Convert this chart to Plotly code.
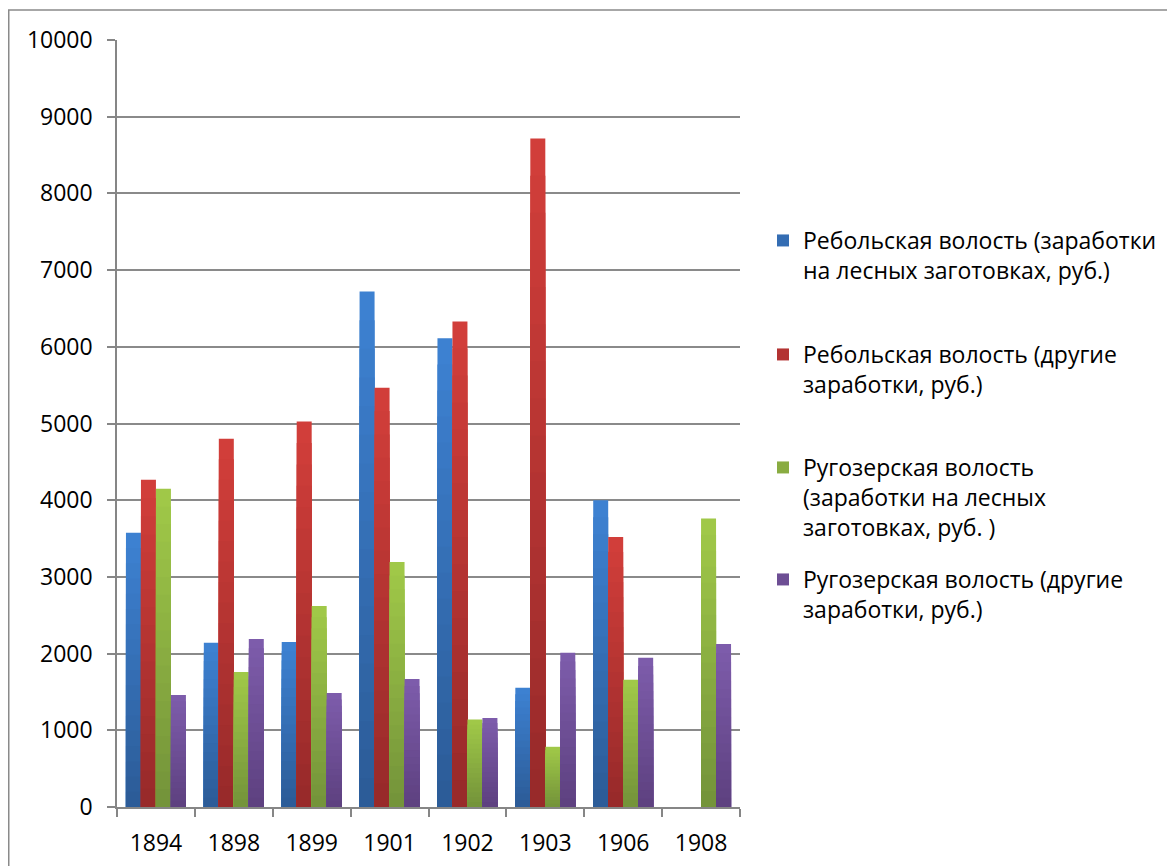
import plotly.graph_objects as go

years = ["1894", "1898", "1899", "1901", "1902", "1903", "1906", "1908"]

reboly_forest = [3575, 2140, 2150, 6720, 6110, 1555, 4000, None]
reboly_other = [4265, 4800, 5025, 5465, 6330, 8715, 3520, None]
rugozero_forest = [4150, 1760, 2620, 3195, 1140, 785, 1660, 3760]
rugozero_other = [1460, 2190, 1485, 1670, 1160, 2010, 1945, 2125]

series_names = [
    "Ребольская волость (заработки<br>на лесных заготовках, руб.)",
    "Ребольская волость (другие<br>заработки, руб.)",
    "Ругозерская волость<br>(заработки на лесных<br>заготовках, руб. )",
    "Ругозерская волость (другие<br>заработки, руб.)",
]
series_values = [reboly_forest, reboly_other, rugozero_forest, rugozero_other]

# gradient top (light) -> bottom (dark)
top_colors = [(61, 129, 209), (209, 62, 58), (160, 200, 72), (125, 92, 171)]
bottom_colors = [(44, 92, 152), (152, 42, 42), (116, 148, 58), (94, 65, 128)]

FONT = "Open Sans"
FS = 23
N = 18

# page has an 8px body margin: figure coordinates = screen - 8
OFF = 8
FIG_W, FIG_H = 1175 - OFF, 866 - OFF
plot_top, plot_bottom = 40 - OFF, 807 - OFF
plot_left, plot_right = 117 - OFF, 740 - OFF
H = plot_bottom - plot_top
W = plot_right - plot_left

fig = go.Figure()
legend_ids = ["legend", "legend2", "legend3", "legend4"]

for s, (name, vals) in enumerate(zip(series_names, series_values)):
    for k in range(N):
        frac = k / (N - 1)
        c = tuple(round(top_colors[s][i] + (bottom_colors[s][i] - top_colors[s][i]) * frac) for i in range(3))
        scale = (N - k) / N
        yv = [None if v is None else v * scale for v in vals]
        fig.add_trace(go.Bar(
            x=years, y=yv, name=name,
            marker=dict(color="rgb(%d,%d,%d)" % c, line=dict(width=0)),
            offsetgroup=str(s),
            legendgroup=str(s),
            legend=legend_ids[s],
            showlegend=(k == N // 2),
            hoverinfo="skip",
        ))

legend_tops = [219, 333, 446, 558]

layout_legends = {}
for i, lid in enumerate(legend_ids):
    layout_legends[lid] = dict(
        x=(763 - OFF - plot_left) / W, xanchor="left",
        y=(plot_bottom - (legend_tops[i] - OFF)) / H, yanchor="top",
        font=dict(family=FONT, size=FS, color="black"),
        valign="top", bgcolor="rgba(0,0,0,0)",
    )

fig.update_layout(
    width=FIG_W, height=FIG_H,
    margin=dict(l=plot_left, r=FIG_W - plot_right, t=plot_top, b=FIG_H - plot_bottom),
    paper_bgcolor="white", plot_bgcolor="white",
    barmode="group", bargap=0.23, bargroupgap=0,
    font=dict(family=FONT, size=FS, color="black"),
    **layout_legends,
)

fig.update_xaxes(
    type="category", showgrid=False, automargin=False,
    showline=True, linecolor="#868686", linewidth=1.5,
    ticks="outside", tickson="boundaries", ticklen=8, tickcolor="#868686", tickwidth=1.5,
    tickfont=dict(family=FONT, size=FS, color="black"),
    ticklabelstandoff=15,
)
fig.update_yaxes(
    range=[0, 10000], dtick=1000, tickformat="d", automargin=False,
    showgrid=True, gridcolor="#8a8a8a", gridwidth=1.5,
    showline=True, linecolor="#868686", linewidth=1.5,
    ticks="outside", ticklen=8, tickcolor="#868686", tickwidth=1.5,
    tickfont=dict(family=FONT, size=FS, color="black"),
    ticklabelstandoff=10, zeroline=False,
)

# outer chart-area border
fig.add_shape(
    type="rect", xref="paper", yref="paper",
    x0=(8 - OFF - plot_left + 0.75) / W, x1=(1200 - plot_left) / W,
    y0=(plot_bottom - 900) / H, y1=(plot_bottom - (10 - OFF)) / H,
    line=dict(color="#8a8a8a", width=1.5), fillcolor="rgba(0,0,0,0)", layer="below",
)

fig.write_html("out.html")
